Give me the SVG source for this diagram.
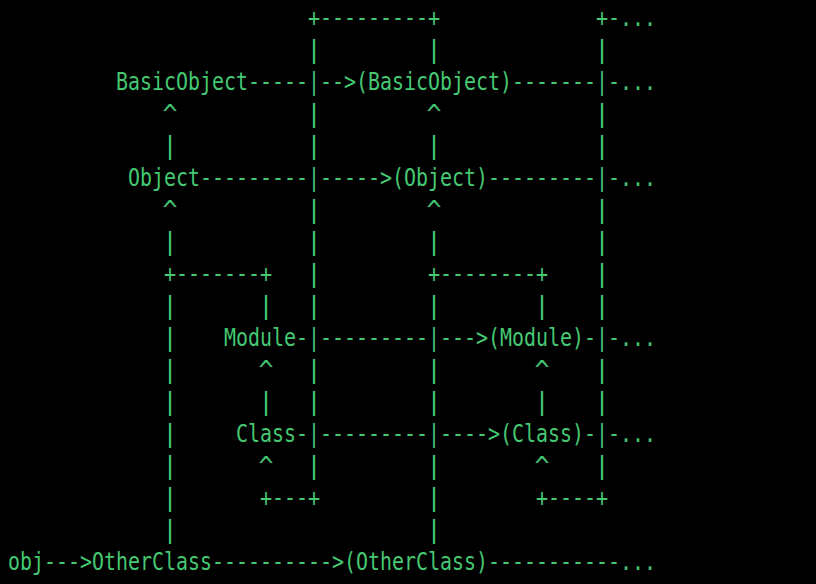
<svg xmlns="http://www.w3.org/2000/svg" width="816" height="584" viewBox="0 0 816 584">
<style>
text{font-family:"DejaVu Sans Mono","Liberation Mono",monospace;font-size:25px;fill:#46c873;white-space:pre}
.c{text-anchor:middle}
</style>
<rect width="816" height="584" fill="#000"/>
<g id="connectors">
<text x="308" y="26" textLength="132" lengthAdjust="spacingAndGlyphs">+---------+</text>
<text x="596" y="26" textLength="60" lengthAdjust="spacingAndGlyphs">+-...</text>
<text class="c" x="314 434 602" y="58">|||</text>
<text x="248" y="90" textLength="108" lengthAdjust="spacingAndGlyphs">-----|--&gt;</text>
<text x="512" y="90" textLength="144" lengthAdjust="spacingAndGlyphs">-------|-...</text>
<text class="c" x="170 314 434 602" y="122">^|^|</text>
<text class="c" x="170 314 434 602" y="154">||||</text>
<text x="200" y="186" textLength="192" lengthAdjust="spacingAndGlyphs">---------|-----&gt;</text>
<text x="488" y="186" textLength="168" lengthAdjust="spacingAndGlyphs">---------|-...</text>
<text class="c" x="170 314 434 602" y="218">^|^|</text>
<text class="c" x="170 314 434 602" y="250">||||</text>
<text x="164" y="282" textLength="108" lengthAdjust="spacingAndGlyphs">+-------+</text>
<text class="c" x="314 602" y="282">||</text>
<text x="428" y="282" textLength="120" lengthAdjust="spacingAndGlyphs">+--------+</text>
<text class="c" x="170 266 314 434 542 602" y="314">||||||</text>
<text class="c" x="170" y="346">|</text>
<text x="296" y="346" textLength="192" lengthAdjust="spacingAndGlyphs">-|---------|---&gt;</text>
<text x="584" y="346" textLength="72" lengthAdjust="spacingAndGlyphs">-|-...</text>
<text class="c" x="170 266 314 434 542 602" y="378">|^||^|</text>
<text class="c" x="170 266 314 434 542 602" y="410">||||||</text>
<text class="c" x="170" y="442">|</text>
<text x="296" y="442" textLength="204" lengthAdjust="spacingAndGlyphs">-|---------|----&gt;</text>
<text x="584" y="442" textLength="72" lengthAdjust="spacingAndGlyphs">-|-...</text>
<text class="c" x="170 266 314 434 542 602" y="474">|^||^|</text>
<text class="c" x="170 434" y="506">||</text>
<text x="260" y="506" textLength="60" lengthAdjust="spacingAndGlyphs">+---+</text>
<text x="536" y="506" textLength="72" lengthAdjust="spacingAndGlyphs">+----+</text>
<text class="c" x="170 434" y="538">||</text>
<text x="44" y="570" textLength="48" lengthAdjust="spacingAndGlyphs">---&gt;</text>
<text x="212" y="570" textLength="132" lengthAdjust="spacingAndGlyphs">----------&gt;</text>
<text x="488" y="570" textLength="168" lengthAdjust="spacingAndGlyphs">-----------...</text>
</g>
<g id="node-basicobject"><text x="116" y="90" textLength="132" lengthAdjust="spacingAndGlyphs">BasicObject</text></g>
<g id="node-basicobject-singleton"><text x="356" y="90" textLength="156" lengthAdjust="spacingAndGlyphs">(BasicObject)</text></g>
<g id="node-object"><text x="128" y="186" textLength="72" lengthAdjust="spacingAndGlyphs">Object</text></g>
<g id="node-object-singleton"><text x="392" y="186" textLength="96" lengthAdjust="spacingAndGlyphs">(Object)</text></g>
<g id="node-module"><text x="224" y="346" textLength="72" lengthAdjust="spacingAndGlyphs">Module</text></g>
<g id="node-module-singleton"><text x="488" y="346" textLength="96" lengthAdjust="spacingAndGlyphs">(Module)</text></g>
<g id="node-class"><text x="236" y="442" textLength="60" lengthAdjust="spacingAndGlyphs">Class</text></g>
<g id="node-class-singleton"><text x="500" y="442" textLength="84" lengthAdjust="spacingAndGlyphs">(Class)</text></g>
<g id="node-obj"><text x="8" y="570" textLength="36" lengthAdjust="spacingAndGlyphs">obj</text></g>
<g id="node-otherclass"><text x="92" y="570" textLength="120" lengthAdjust="spacingAndGlyphs">OtherClass</text></g>
<g id="node-otherclass-singleton"><text x="344" y="570" textLength="144" lengthAdjust="spacingAndGlyphs">(OtherClass)</text></g>
</svg>
